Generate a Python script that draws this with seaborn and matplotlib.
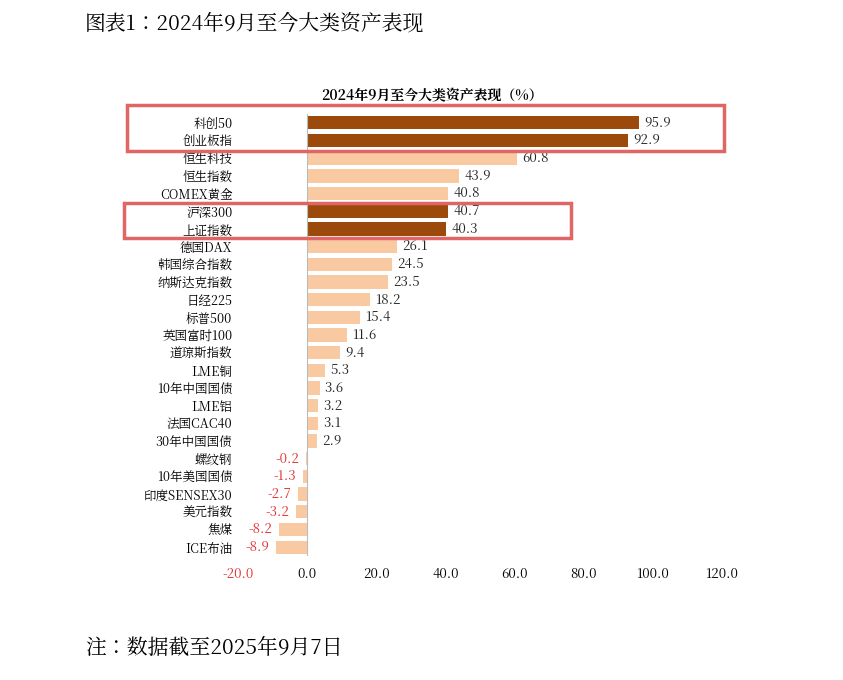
import matplotlib
matplotlib.use("Agg")
import matplotlib.pyplot as plt
import matplotlib.font_manager as fm
import seaborn as sns
import pandas as pd
from matplotlib.patches import Rectangle

cjk = None
for f in fm.findSystemFonts():
    if "CJK" in f or "cjk" in f.lower():
        try:
            fm.fontManager.addfont(f)
            name = fm.FontProperties(fname=f).get_name()
            if cjk is None or "SC" in name:
                cjk = name
        except Exception:
            pass
plt.rcParams["font.family"] = [cjk or "Noto Sans CJK SC", "Noto Sans CJK SC", "Noto Sans CJK JP", "DejaVu Sans"]
plt.rcParams["axes.unicode_minus"] = False

categories = ["科创50","创业板指","恒生科技","恒生指数","COMEX黄金","沪深300","上证指数","德国DAX",
              "韩国综合指数","纳斯达克指数","日经225","标普500","英国富时100","道琼斯指数","LME铜",
              "10年中国国债","LME铝","法国CAC40","30年中国国债","螺纹钢","10年美国国债","印度SENSEX30",
              "美元指数","焦煤","ICE布油"]
values = [95.9,92.9,60.8,43.9,40.8,40.7,40.3,26.1,24.5,23.5,18.2,15.4,11.6,9.4,5.3,3.6,3.2,3.1,2.9,
          -0.2,-1.3,-2.7,-3.2,-8.2,-8.9]
highlight = ["科创50","创业板指","沪深300","上证指数"]
xticks = [-20,0,20,40,60,80,100,120]

df = pd.DataFrame({"cat": categories, "val": values})
df["grp"] = ["h" if c in highlight else "n" for c in categories]

W, H = 843, 680
fig = plt.figure(figsize=(W/100, H/100), dpi=100)
ax = fig.add_axes([238/W, 1-556/H, (722-238)/W, (556-114)/H])
sns.barplot(data=df, y="cat", x="val", hue="grp", palette={"h":"#9B4A0C","n":"#F9CAA2"},
            dodge=False, legend=False, width=0.75, ax=ax, orient="h", saturation=1)
ax.set_xlim(-20, 120)
ax.set_xticks(xticks)
ax.set_xticklabels([f"{t:.1f}" for t in xticks], fontsize=9.5)
for lab, t in zip(ax.get_xticklabels(), xticks):
    if t < 0: lab.set_color("#E03030")
ax.set_xlabel(""); ax.set_ylabel("")
ax.tick_params(axis="x", length=0, pad=8)
for s in ["top","right","left","bottom"]:
    ax.spines[s].set_visible(False)
ax.axvline(0, color="#BBBBBB", lw=0.8)
for i, v in enumerate(values):
    if v >= 0:
        ax.text(v + 1.5, i, f"{v:.1f}", va="center", ha="left", fontsize=9.5, color="#222222")
    else:
        ax.text(v - 2, i, f"{v:.1f}", va="center", ha="right", fontsize=9.5, color="#E03030")
ax.set_yticks(range(len(categories)))
ax.set_yticklabels(categories)
ax.tick_params(axis="y", length=0, labelsize=9, pad=4)
fig.text(432/W, 1-96/H, "2024年9月至今大类资产表现（%）", ha="center", va="center", fontsize=10, fontweight="bold")
fig.text(85/W, 1-24/H, "图表1：2024年9月至今大类资产表现", ha="left", va="center", fontsize=15)
fig.text(85/W, 1-648/H, "注：数据截至2025年9月7日", ha="left", va="center", fontsize=15)
for (x0, y0, x1, y1) in [(127,105,724,151),(124,203,571,238)]:
    fig.patches.append(Rectangle((x0/W, 1-y1/H), (x1-x0)/W, (y1-y0)/H, transform=fig.transFigure,
                                 fill=False, ec="#E06666", lw=2.5))
fig.savefig("out.png", dpi=100, facecolor="white")
